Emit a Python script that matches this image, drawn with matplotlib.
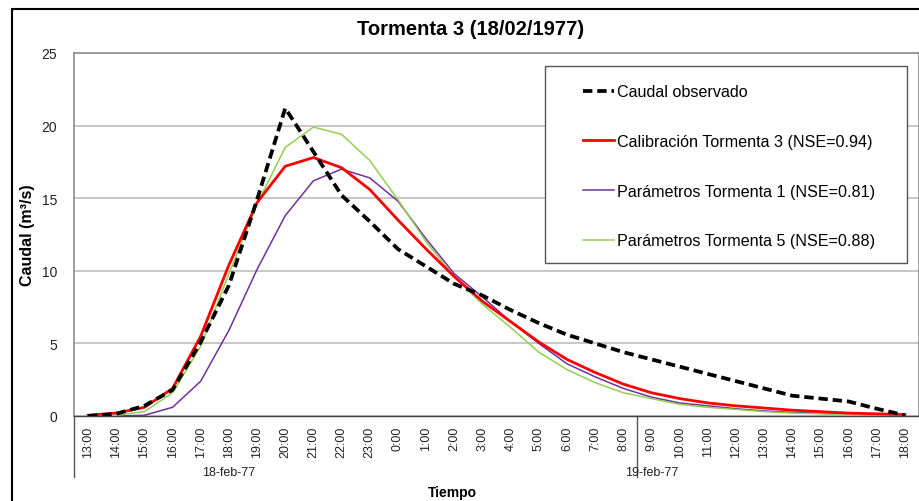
import matplotlib
matplotlib.use("Agg")
import matplotlib.pyplot as plt
from matplotlib.patches import Rectangle
from matplotlib.lines import Line2D
import matplotlib.transforms as mtransforms

plt.rcParams["font.family"] = ["Liberation Sans", "DejaVu Sans"]

# hourly categories, 18-feb-77 13:00 .. 19-feb-77 18:00
hours = ["13:00", "14:00", "15:00", "16:00", "17:00", "18:00", "19:00", "20:00",
         "21:00", "22:00", "23:00", "0:00", "1:00", "2:00", "3:00", "4:00", "5:00",
         "6:00", "7:00", "8:00", "9:00", "10:00", "11:00", "12:00", "13:00", "14:00",
         "15:00", "16:00", "17:00", "18:00"]
day_labels = ["18-feb-77", "19-feb-77"]
day_sizes = [11, 19]

caudal_obs = [0.0, 0.15, 0.7, 1.8, 5.1, 9.0, 14.9, 21.2, 18.2, 15.2, 13.4, 11.5, 10.3,
              9.1, 8.3, 7.3, 6.4, 5.6, 5.0, 4.4, 3.9, 3.4, 2.9, 2.4, 1.9, 1.4, 1.2,
              1.0, 0.5, 0.05]
calib_t3 = [0.05, 0.2, 0.6, 1.9, 5.5, 10.4, 14.7, 17.2, 17.8, 17.1, 15.6, 13.5, 11.5,
            9.6, 7.9, 6.5, 5.1, 3.9, 3.0, 2.2, 1.6, 1.2, 0.9, 0.7, 0.55, 0.4, 0.3,
            0.2, 0.15, 0.1]
param_t1 = [0.0, 0.0, 0.05, 0.6, 2.4, 5.9, 10.1, 13.8, 16.2, 17.0, 16.4, 14.8, 12.2,
            9.8, 8.2, 6.5, 5.0, 3.6, 2.7, 1.9, 1.3, 0.9, 0.7, 0.5, 0.35, 0.25, 0.18,
            0.12, 0.08, 0.05]
param_t5 = [0.0, 0.05, 0.3, 1.6, 4.8, 9.8, 14.6, 18.5, 19.9, 19.4, 17.6, 14.9, 12.0,
            9.6, 7.7, 6.1, 4.4, 3.2, 2.3, 1.6, 1.2, 0.8, 0.6, 0.45, 0.3, 0.2, 0.15,
            0.1, 0.07, 0.05]

W, H = 920, 502
fig = plt.figure(figsize=(W / 100, H / 100), dpi=100)
ax = fig.add_axes([74 / W, 1 - 417 / H, (919 - 74) / W, (417 - 54) / H])

x = list(range(len(hours)))
ax.plot(x, param_t1, color="#7030A0", lw=1.1, label="Parámetros Tormenta 1 (NSE=0.81)", zorder=3)
ax.plot(x, param_t5, color="#92D050", lw=1.1, label="Parámetros Tormenta 5 (NSE=0.88)", zorder=3)
ax.plot(x, calib_t3, color="#FF0000", lw=2.0, label="Calibración Tormenta 3 (NSE=0.94)", zorder=4)
ax.plot(x, caudal_obs, color="black", lw=2.7, ls=(0, (2.5, 1.3)),
        label="Caudal observado", zorder=5)

ax.set_xlim(-0.5, len(hours) - 0.5)
ax.set_ylim(0, 25)
ax.set_yticks([0, 5, 10, 15, 20, 25])
ax.set_xticks(x)
ax.set_xticklabels(hours, rotation=90, fontsize=9, color="#222222")
ax.tick_params(axis="x", length=0, pad=7)
ax.tick_params(axis="y", length=0, pad=12, labelsize=10, labelcolor="#222222")
ax.grid(axis="y", color="#BEBEBE", lw=1.2)
ax.set_axisbelow(True)
for side in ["left", "top", "right"]:
    ax.spines[side].set_color("#8C8C8C")
    ax.spines[side].set_linewidth(1.2)
ax.spines["bottom"].set_color("#404040")
ax.spines["bottom"].set_linewidth(1.0)

# second level of the category axis (dates)
trans = mtransforms.blended_transform_factory(ax.transData, ax.transAxes)
start = 0
for lab, n in zip(day_labels, day_sizes):
    ax.text(start + (n - 1) / 2, -0.154, lab, transform=trans, ha="center", va="center",
            fontsize=9, color="#222222")
    start += n
sep_x = day_sizes[0] + (day_sizes[1] - 1) / 2 - 0.5
for xx in [-0.5, sep_x]:
    ax.add_line(Line2D([xx, xx], [0, -0.168], transform=trans, color="#555555",
                       lw=1.0, clip_on=False))

# legend with its own frame
ax.add_patch(Rectangle((0.5574, 0.4215), 0.4284, 0.5427, transform=ax.transAxes,
                       facecolor="white", edgecolor="#555555", lw=1.0, zorder=6))
handles, labels = ax.get_legend_handles_labels()
order = [3, 2, 0, 1]
leg = ax.legend([handles[i] for i in order], [labels[i] for i in order],
                loc="center left", bbox_to_anchor=(0.6024, 0.688), frameon=False,
                fontsize=11.6, borderpad=0, labelspacing=2.15, handlelength=1.9,
                handletextpad=0.2, borderaxespad=0)
leg.set_zorder(7)

fig.text(471 / W, 1 - 30 / H, "Tormenta 3 (18/02/1977)", ha="center", va="center",
         fontsize=14.5, fontweight="bold")
fig.text(452 / W, 1 - 493 / H, "Tiempo", ha="center", va="center",
         fontsize=10, fontweight="bold")
fig.text(28 / W, 1 - 235 / H, "Caudal (m³/s)", ha="center", va="center",
         rotation=90, fontsize=11.5, fontweight="bold")

# outer chart border
fig.patches.append(Rectangle((12 / W, -8 / H), 930 / W, 500 / H, transform=fig.transFigure,
                             fill=False, edgecolor="black", lw=1.5))

fig.savefig("out.png", dpi=100)
